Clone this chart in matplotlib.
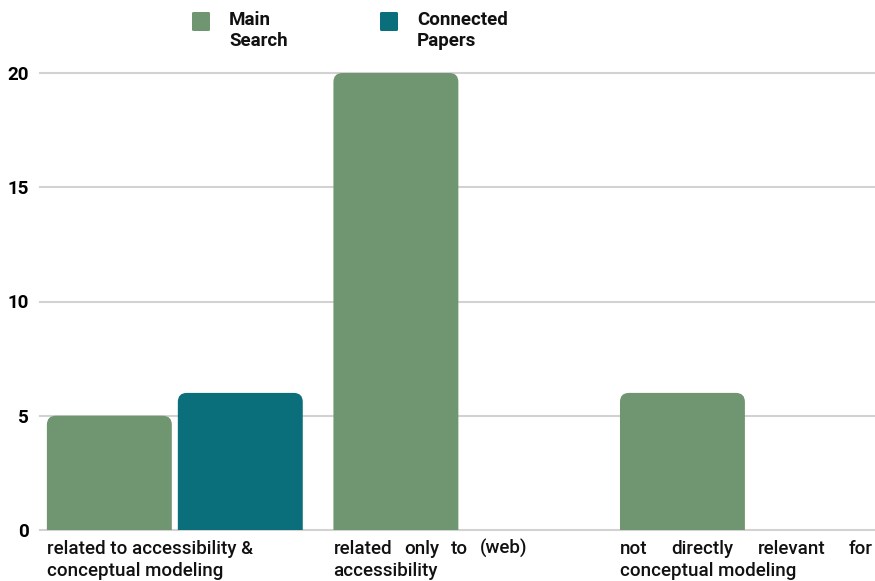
import matplotlib.pyplot as plt
import numpy as np
from matplotlib.patches import FancyBboxPatch

# Data
categories = [
    ["related to accessibility &", "conceptual modeling"],
    ["related only to (web)", "accessibility"],
    ["not directly relevant for", "conceptual modeling"],
]
main_search = [5, 20, 6]
connected_papers = [6, 0, 0]
series_names = ["Main\nSearch", "Connected\nPapers"]
yticks = [0, 5, 10, 15, 20]

green = "#6f9670"
teal = "#0a6f7b"
grid_col = "#d2d2d2"
plt.rcParams['font.family'] = ['Roboto', 'DejaVu Sans']

W, H = 875, 581
fig = plt.figure(figsize=(W / 100, H / 100), dpi=100)
ax = fig.add_axes([40 / W, 1 - 530 / H, 1 - 40 / W, (530 - 73) / H])

bar_w = 0.436
step = 0.457
x = np.arange(len(main_search))
ax.set_xlim(-0.024, 2.89)
ax.set_ylim(0, 20)

# rounded top corners: aspect between y and x units in pixels
px_x = (W - 40) / (2.89 + 0.024)
px_y = (530 - 73) / 20
r = 9 / px_x
aspect = px_x / px_y

for values, off, col in [(main_search, 0, green), (connected_papers, step, teal)]:
    for xi, v in zip(x, values):
        if v <= 0:
            continue
        p = FancyBboxPatch((xi + off, -1), bar_w, v + 1,
                           boxstyle=f"round,pad=0,rounding_size={r}",
                           mutation_aspect=aspect, fc=col, ec="none", zorder=3)
        ax.add_patch(p)

ax.set_yticks(yticks)
ax.set_yticklabels([str(t) for t in yticks], fontsize=13.5, fontweight='bold')
ax.tick_params(axis='y', length=0, pad=8)
ax.set_xticks([])
for s in ax.spines.values():
    s.set_visible(False)
for t in yticks:
    ax.axhline(t, color=grid_col, lw=1.5, zorder=1, clip_on=False)

# legend
for i, (name, col) in enumerate(zip(series_names, [green, teal])):
    lx = 192 + i * 188
    fig.add_artist(FancyBboxPatch((lx / W, 1 - 31 / H), 18 / W, 19 / H,
                                  boxstyle="round,pad=0,rounding_size=0.002",
                                  transform=fig.transFigure, fc=col, ec="none"))
    fig.text((lx + 37) / W, 1 - 11 / H, name, fontsize=13.5, fontweight='bold',
             va='top', ha='left', linespacing=1.2, color='#111111')

# category labels (first line justified like the original)
fig.canvas.draw()
renderer = fig.canvas.get_renderer()
right_px = [None, 527, 873]
for xi, (l1, l2), rp in zip(x, categories, right_px):
    left_px = ax.transData.transform((xi, 0))[0]
    y1 = 1 - 554 / H
    y2 = 1 - 576 / H
    kw = dict(fontsize=13.5, fontweight='medium', color='#111111', va='baseline', ha='left')
    if rp is None:
        fig.text(left_px / W, y1, l1, **kw)
    else:
        words = l1.split()
        texts = [fig.text(0, y1, w, **kw) for w in words]
        widths = [t.get_window_extent(renderer).width for t in texts]
        gap = (rp - left_px - sum(widths)) / (len(words) - 1)
        cx = left_px
        for t, wd in zip(texts, widths):
            t.set_x(cx / W)
            cx += wd + gap
    fig.text(left_px / W, y2, l2, **kw)

fig.savefig("out.png", dpi=100)
